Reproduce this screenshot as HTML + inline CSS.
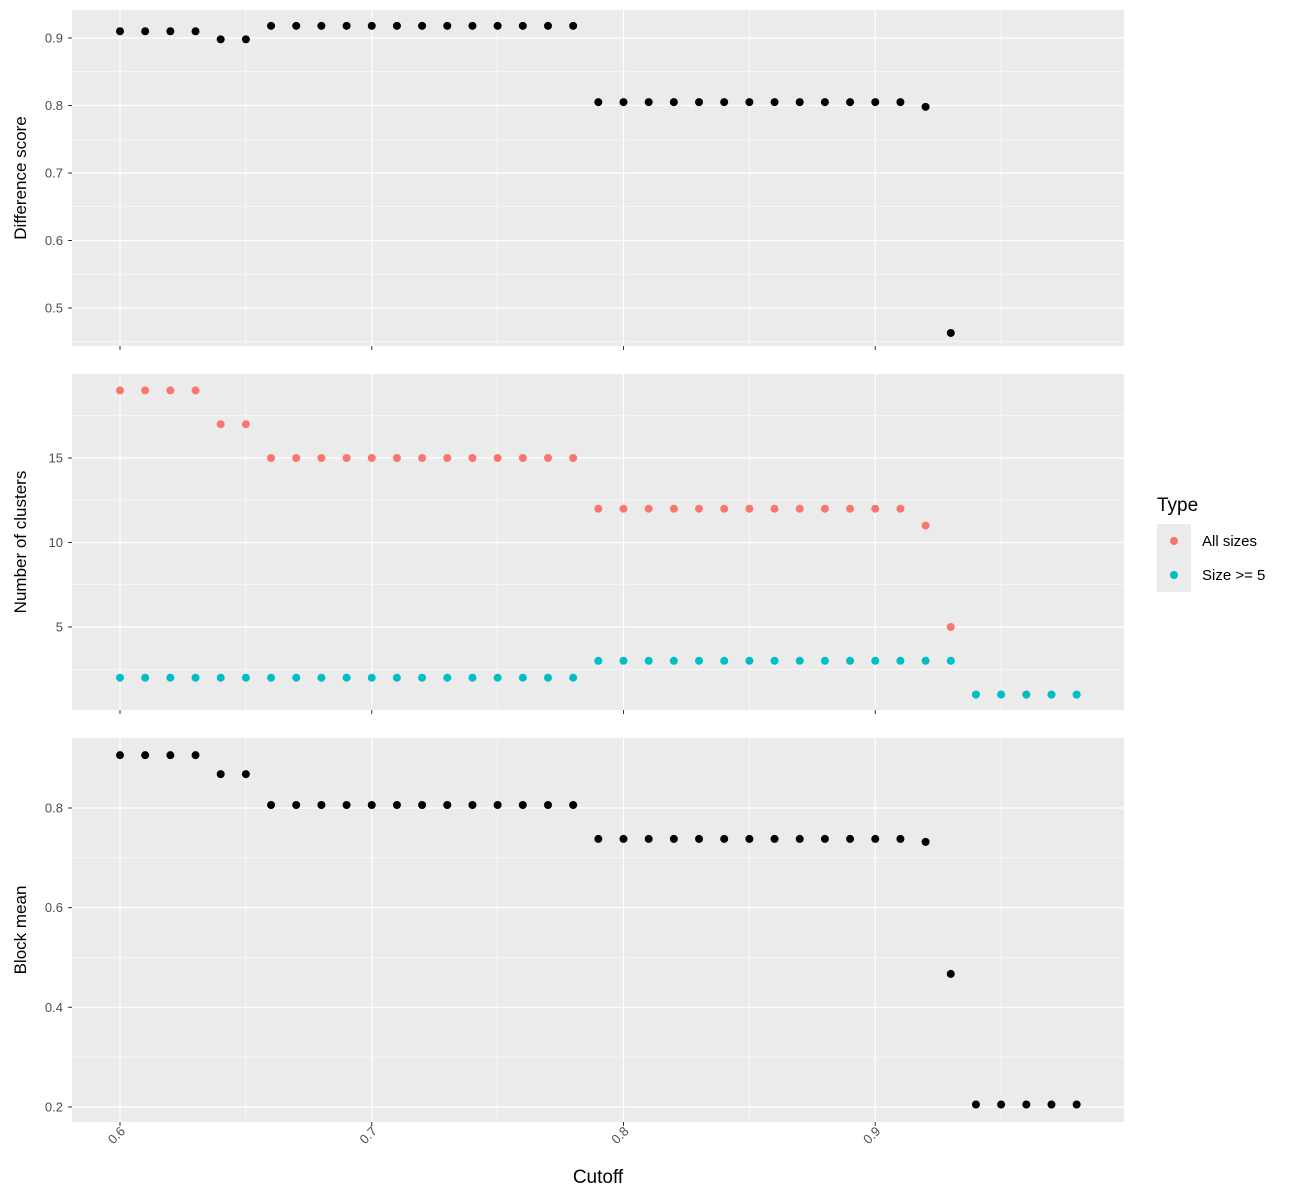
<!DOCTYPE html>
<html><head><meta charset="utf-8"><style>body{margin:0;background:#fff}svg{display:block;font-family:"Liberation Sans",sans-serif}</style></head><body>
<svg id="c" width="1300" height="1200"></svg>
<script>
const cutoffs=[0.60,0.61,0.62,0.63,0.64,0.65,0.66,0.67,0.68,0.69,0.70,0.71,0.72,0.73,0.74,0.75,0.76,0.77,0.78,0.79,0.80,0.81,0.82,0.83,0.84,0.85,0.86,0.87,0.88,0.89,0.90,0.91,0.92,0.93,0.94,0.95,0.96,0.97,0.98];
const diffScore=[0.910,0.910,0.910,0.910,0.898,0.898,0.918,0.918,0.918,0.918,0.918,0.918,0.918,0.918,0.918,0.918,0.918,0.918,0.918,0.805,0.805,0.805,0.805,0.805,0.805,0.805,0.805,0.805,0.805,0.805,0.805,0.805,0.798,0.463];
const allSizes=[19,19,19,19,17,17,15,15,15,15,15,15,15,15,15,15,15,15,15,12,12,12,12,12,12,12,12,12,12,12,12,12,11,5,1,1,1,1,1];
const size5=[2,2,2,2,2,2,2,2,2,2,2,2,2,2,2,2,2,2,2,3,3,3,3,3,3,3,3,3,3,3,3,3,3,3,1,1,1,1,1];
const blockMean=[0.906,0.906,0.906,0.906,0.868,0.868,0.806,0.806,0.806,0.806,0.806,0.806,0.806,0.806,0.806,0.806,0.806,0.806,0.806,0.738,0.738,0.738,0.738,0.738,0.738,0.738,0.738,0.738,0.738,0.738,0.738,0.738,0.732,0.467,0.205,0.205,0.205,0.205,0.205];
const xTicks=[0.6,0.7,0.8,0.9];
const t1=[0.5,0.6,0.7,0.8,0.9], t2=[5,10,15], t3=[0.2,0.4,0.6,0.8];
const svg=document.getElementById('c'),NS='http://www.w3.org/2000/svg';
function el(t,a,p){const e=document.createElementNS(NS,t);for(const k in a)e.setAttribute(k,a[k]);(p||svg).appendChild(e);return e;}
const X=v=>120+(v-0.6)*2517.5, L=72,R=1124;
const panels=[
 {top:10,bot:346,y:v=>38+(0.9-v)*675,ticks:t1,minor:[0.45,0.55,0.65,0.75,0.85],title:'Difference score',name:'difference-score'},
 {top:374,bot:710,y:v=>458+(15-v)*16.9,ticks:t2,minor:[2.5,7.5,12.5,17.5],title:'Number of clusters',name:'number-of-clusters'},
 {top:738,bot:1122,y:v=>808+(0.8-v)*498.3,ticks:t3,minor:[0.3,0.5,0.7],title:'Block mean',name:'block-mean'}];
panels.forEach((p,i)=>{
 const g=el('g',{});  
 el('rect',{x:L,y:p.top,width:R-L,height:p.bot-p.top,fill:'#ebebeb'},g);
 p.minor.forEach(v=>{const y=p.y(v);if(y>p.top&&y<p.bot)el('line',{x1:L,x2:R,y1:y,y2:y,stroke:'#fff','stroke-width':0.6},g);});
 [0.65,0.75,0.85,0.95].forEach(v=>el('line',{x1:X(v),x2:X(v),y1:p.top,y2:p.bot,stroke:'#fff','stroke-width':0.6},g));
 p.ticks.forEach(v=>{const y=p.y(v);el('line',{x1:L,x2:R,y1:y,y2:y,stroke:'#fff','stroke-width':1.2},g);
  el('line',{x1:68,x2:72,y1:y,y2:y,stroke:'#333'},g);
  const t=el('text',{x:63,y:y+4.5,'text-anchor':'end','font-size':13,fill:'#4d4d4d'},g);t.textContent=v;});
 xTicks.forEach(v=>{el('line',{x1:X(v),x2:X(v),y1:p.top,y2:p.bot,stroke:'#fff','stroke-width':1.2},g);
  el('line',{x1:X(v),x2:X(v),y1:p.bot,y2:p.bot+4,stroke:'#333'},g);});
 const yt=el('text',{x:0,y:0,transform:`translate(26,${(p.top+p.bot)/2}) rotate(-90)`,'text-anchor':'middle','font-size':17,fill:'#000'},g);
 yt.textContent=p.title;
});
function pts(arr,p,color,name){arr.forEach((v,i)=>{const c=el('circle',{cx:X(cutoffs[i]),cy:p.y(v),r:4,fill:color});
 
 });}
pts(diffScore,panels[0],'#000','difference-point');
pts(allSizes,panels[1],'#f8766d','all-sizes-point');
pts(size5,panels[1],'#00bfc4','size5-point');
pts(blockMean,panels[2],'#000','block-mean-point');
xTicks.forEach(v=>{const t=el('text',{x:0,y:0,transform:`translate(${X(v)+6},${1132}) rotate(-45)`,'text-anchor':'end','font-size':13,fill:'#4d4d4d'});
 t.textContent=v;});
const xt=el('text',{x:598,y:1183,'text-anchor':'middle','font-size':19});xt.textContent='Cutoff';
const lg=el('g',{});
el('text',{x:1157,y:511,'font-size':19},lg).textContent='Type';
[['All sizes','#f8766d',524],['Size >= 5','#00bfc4',558]].forEach(([n,c,y])=>{
 el('rect',{x:1157,y:y,width:34,height:34,fill:'#ebebeb'},lg);
 el('circle',{cx:1174,cy:y+17,r:4,fill:c},lg);
 const t=el('text',{x:1202,y:y+22,'font-size':15},lg);t.textContent=n;});
</script></body></html>
